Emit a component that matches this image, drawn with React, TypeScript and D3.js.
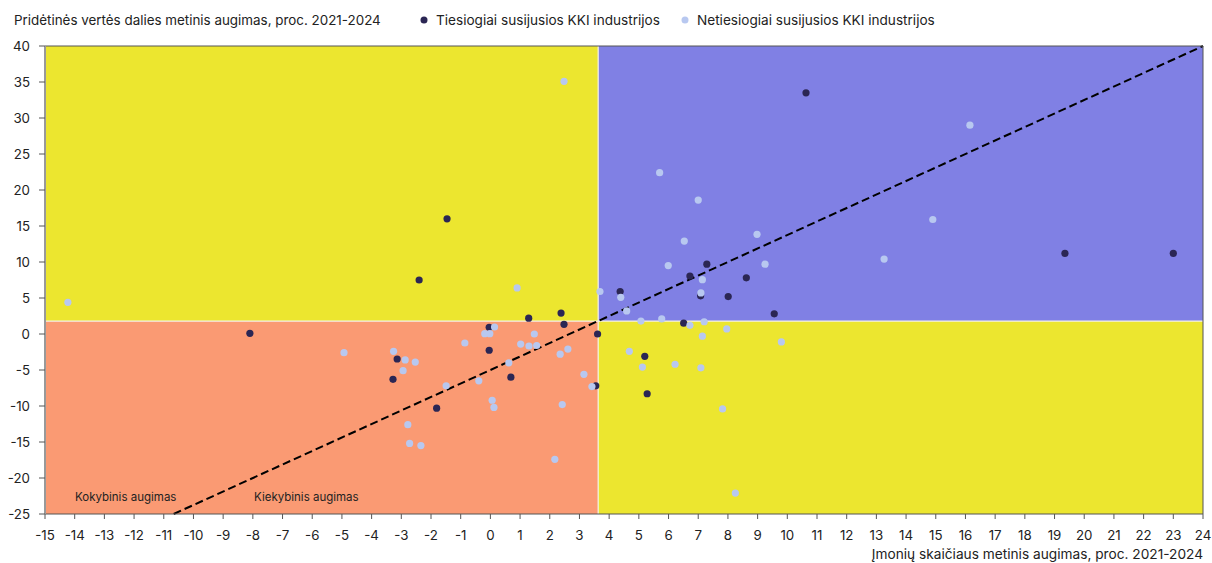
import React from "react";
import * as d3 from "d3";

const xTicks = d3.range(-15, 25, 1);
const yTicks = d3.range(-25, 45, 5);
const splitX = 3.63;
const splitY = 1.8;
const lineEnd = [24, 40];
const lineSlope = 1.875;

const seriesNames = ["Tiesiogiai susijusios KKI industrijos", "Netiesiogiai susijusios KKI industrijos"];
const seriesColors = ["#2b2654", "#b8c8f0"];

const directX = [-8.1, -1.46, -2.4, 10.63, 19.35, 23.0, 1.29, 2.38, 2.48, -0.04, -0.04, -3.14, -3.28, 0.69, -1.81, 3.61, 3.55, 4.37, 7.29, 6.72, 8.62, 8.01, 7.08, 9.56, 6.51, 5.2, 5.28];
const directY = [0.1, 16.0, 7.5, 33.5, 11.2, 11.2, 2.2, 2.9, 1.35, 0.93, -2.26, -3.47, -6.3, -6.0, -10.3, 0.0, -7.2, 5.9, 9.7, 8.05, 7.8, 5.2, 5.3, 2.8, 1.5, -3.1, -8.3];

const indirectX = [-14.23, 2.48, -4.93, 16.15, 14.9, 13.26, 8.25, 5.7, 7.0, 6.53, 8.98, 5.99, 9.25, 7.14, 7.09, 3.69, 4.39, 4.59, 5.07, 5.77, 6.72, 7.2, 7.96, 7.14, 9.8, 4.68, 5.12, 6.22, 7.09, 7.82, 3.15, 3.42, -3.26, -2.87, -2.53, -2.94, -0.86, -0.19, -0.02, 0.14, 0.9, 1.48, 1.02, 1.3, 1.56, 2.35, 2.61, 0.62, -0.39, -1.49, 0.06, 0.12, 2.42, -2.78, -2.72, -2.34, 2.17];
const indirectY = [4.4, 35.1, -2.6, 29.0, 15.9, 10.4, -22.1, 22.4, 18.6, 12.9, 13.85, 9.5, 9.7, 7.55, 5.7, 5.9, 5.1, 3.2, 1.8, 2.1, 1.2, 1.7, 0.7, -0.3, -1.1, -2.4, -4.6, -4.2, -4.7, -10.4, -5.6, -7.3, -2.4, -3.6, -3.9, -5.1, -1.25, 0.05, 0.05, 0.97, 6.4, 0.0, -1.4, -1.67, -1.6, -2.8, -2.1, -4.0, -6.5, -7.2, -9.2, -10.2, -9.8, -12.6, -15.2, -15.5, -17.4];

const W = 1212;
const H = 563;
const FONT = "Inter, 'Noto Sans', sans-serif";

export default function App() {
  const x = d3.scaleLinear().domain([-15, 24]).range([45, 1203]);
  const y = d3.scaleLinear().domain([-25, 40]).range([514, 46]);
  const [x0, x1] = x.range();
  const [y0, y1] = y.range();

  const lineStartY = -25;
  const lineStartX = lineEnd[0] - (lineEnd[1] - lineStartY) / lineSlope;
  const linePath = d3.line()([
    [x(lineStartX), y(lineStartY)],
    [x(lineEnd[0]), y(lineEnd[1])],
  ]);

  const direct = directX.map((v, i) => [v, directY[i]]);
  const indirect = indirectX.map((v, i) => [v, indirectY[i]]);

  return (
    <svg width={W} height={H} style={{ position: "absolute", left: 0, top: 0, fontFamily: FONT }}>
      <rect x={0} y={0} width={W} height={H} fill="#ffffff" />
      {/* quadrants */}
      <rect x={x0} y={y1} width={x(splitX) - x0} height={y(splitY) - y1} fill="#ece62f" />
      <rect x={x(splitX)} y={y1} width={x1 - x(splitX)} height={y(splitY) - y1} fill="#8080e4" />
      <rect x={x0} y={y(splitY)} width={x(splitX) - x0} height={y0 - y(splitY)} fill="#fa9a73" />
      <rect x={x(splitX)} y={y(splitY)} width={x1 - x(splitX)} height={y0 - y(splitY)} fill="#ece62f" />
      <line x1={x(splitX)} x2={x(splitX)} y1={y1} y2={y0} stroke="#f4f1e6" strokeWidth={1.2} />
      <line x1={x0} x2={x1} y1={y(splitY)} y2={y(splitY)} stroke="#f4f1e6" strokeWidth={1.2} />

      {/* quadrant labels */}
      <text x={75} y={501} fontSize={11.5} fill="#222">Kokybinis augimas</text>
      <text x={254} y={501} fontSize={11.5} fill="#222">Kiekybinis augimas</text>

      {/* dashed line */}
      <path d={linePath || ""} stroke="#000" strokeWidth={2} strokeDasharray="8,4" fill="none" />

      {/* points */}
      {direct.map((d, i) => (
        <circle key={"d" + i} cx={x(d[0])} cy={y(d[1])} r={3.6} fill={seriesColors[0]} />
      ))}
      {indirect.map((d, i) => (
        <circle key={"i" + i} cx={x(d[0])} cy={y(d[1])} r={3.6} fill={seriesColors[1]} />
      ))}

      {/* frame */}
      <line x1={x0} x2={x1} y1={y1} y2={y1} stroke="#555" strokeWidth={1} />
      <line x1={x1} x2={x1} y1={y1} y2={y0} stroke="#555" strokeWidth={1} />
      <line x1={x0} x2={x1} y1={y0} y2={y0} stroke="#555" strokeWidth={1} />
      <line x1={x0} x2={x0} y1={y1} y2={y0} stroke="#999" strokeWidth={2} />

      {/* y axis */}
      {yTicks.map((t) => (
        <g key={"y" + t}>
          <line x1={x0 - 6} x2={x0} y1={y(t)} y2={y(t)} stroke="#555" />
          <text x={30} y={y(t)} dy="0.35em" textAnchor="end" fontSize={13.3} fill="#222">
            {t}
          </text>
        </g>
      ))}
      {/* x axis */}
      {xTicks.map((t) => (
        <g key={"x" + t}>
          <line x1={x(t)} x2={x(t)} y1={y0} y2={y0 + 5} stroke="#555" />
          <text x={x(t)} y={540} textAnchor="middle" fontSize={13.3} fill="#222">
            {t}
          </text>
        </g>
      ))}
      <text x={1203} y={559} textAnchor="end" fontSize={13.7} fill="#222">
        Įmonių skaičiaus metinis augimas, proc. 2021-2024
      </text>

      {/* title & legend */}
      <text x={14} y={25} fontSize={13.4} fill="#222">
        Pridėtinės vertės dalies metinis augimas, proc. 2021-2024
      </text>
      <circle cx={424} cy={20} r={3.5} fill={seriesColors[0]} />
      <text x={436} y={25} fontSize={13.6} fill="#222">{seriesNames[0]}</text>
      <circle cx={685} cy={20} r={3.5} fill={seriesColors[1]} />
      <text x={697} y={25} fontSize={13.6} fill="#222">{seriesNames[1]}</text>
    </svg>
  );
}
